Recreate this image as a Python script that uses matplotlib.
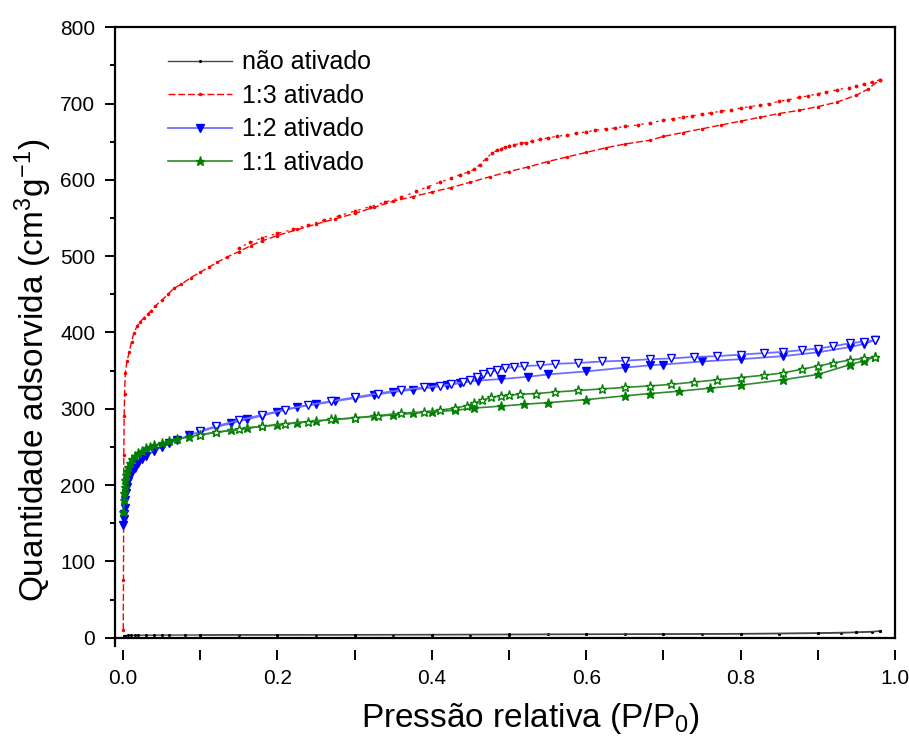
import matplotlib
matplotlib.use('Agg')
import matplotlib.pyplot as plt
from matplotlib.ticker import MultipleLocator

plt.rcParams['font.family'] = ['Liberation Sans', 'DejaVu Sans']
plt.rcParams['mathtext.fontset'] = 'custom'
plt.rcParams['mathtext.rm'] = 'Liberation Sans'
plt.rcParams['mathtext.it'] = 'Liberation Sans'

# não ativado
p_na_ads = [0.001, 0.003, 0.006, 0.01, 0.015, 0.02, 0.03, 0.04, 0.05, 0.06, 0.08, 0.1,
            0.15, 0.2, 0.25, 0.3, 0.35, 0.4, 0.45, 0.5, 0.55, 0.6, 0.65, 0.7, 0.75,
            0.8, 0.85, 0.9, 0.93, 0.95, 0.97, 0.98]
v_na_ads = [2.5, 2.8, 3.0, 3.1, 3.2, 3.2, 3.3, 3.3, 3.4, 3.4, 3.5, 3.5, 3.6, 3.7, 3.7,
            3.8, 3.9, 3.9, 4.0, 4.1, 4.2, 4.3, 4.4, 4.5, 4.7, 4.9, 5.2, 5.7, 6.2, 6.8,
            7.6, 8.5]
p_na_des = [0.98, 0.95, 0.9, 0.8, 0.7, 0.6, 0.5, 0.4, 0.3, 0.2, 0.1]
v_na_des = [8.5, 7.2, 6.2, 5.3, 4.8, 4.5, 4.3, 4.1, 3.9, 3.8, 3.6]

# 1:3 ativado
p_13_ads = [0.0003, 0.0006, 0.001, 0.0015, 0.002, 0.003, 0.005, 0.008, 0.011, 0.014,
            0.018, 0.022, 0.027, 0.032, 0.036, 0.042, 0.05, 0.058, 0.066, 0.075, 0.088,
            0.1, 0.112, 0.122, 0.135, 0.15, 0.166, 0.18, 0.2, 0.226, 0.25, 0.275, 0.3,
            0.325, 0.35, 0.375, 0.4, 0.425, 0.45, 0.475, 0.5, 0.525, 0.55, 0.575, 0.6,
            0.625, 0.65, 0.683, 0.7, 0.725, 0.75, 0.775, 0.8, 0.825, 0.85, 0.875, 0.9,
            0.925, 0.95, 0.965, 0.98]
v_13_ads = [10, 75, 240, 290, 320, 347, 362, 374, 388, 399, 408, 414, 419, 424, 428, 435,
            442, 450, 458, 463, 472, 479, 486, 492, 499, 506, 514, 520, 527, 535, 542,
            549, 556, 564, 572, 578, 584, 590, 597, 604, 611, 617, 624, 630, 636, 642,
            647, 652, 657, 662, 667, 672, 677, 682, 687, 691, 696, 702, 711, 719, 731]
p_13_des = [0.98, 0.97, 0.96, 0.95, 0.94, 0.925, 0.91, 0.9, 0.887, 0.875, 0.862, 0.85,
            0.837, 0.825, 0.812, 0.8, 0.787, 0.775, 0.762, 0.75, 0.737, 0.725, 0.712,
            0.7, 0.683, 0.667, 0.65, 0.637, 0.625, 0.612, 0.6, 0.587, 0.575, 0.562, 0.55,
            0.54, 0.53, 0.522, 0.515, 0.507, 0.5, 0.495, 0.49, 0.485, 0.478, 0.47, 0.462,
            0.455, 0.447, 0.437, 0.425, 0.41, 0.395, 0.38, 0.36, 0.34, 0.32, 0.3, 0.28,
            0.26, 0.24, 0.22, 0.2, 0.18, 0.165, 0.15]
v_13_des = [731, 728, 726, 723, 721, 718, 715, 713, 710, 708, 705, 703, 700, 698, 696,
            694, 692, 690, 688, 686, 684, 682, 680, 678, 675, 672, 670, 668, 667, 665,
            663, 661, 659, 657, 655, 653, 651, 649, 648, 646, 645, 643, 641, 639, 635,
            628, 620, 614, 610, 607, 602, 597, 591, 585, 577, 571, 565, 559, 553, 547,
            541, 535, 530, 524, 518, 511]

# 1:2 ativado
p_12_ads = [0.0005, 0.001, 0.0015, 0.002, 0.003, 0.004, 0.005, 0.007, 0.009, 0.012,
            0.015, 0.02, 0.025, 0.03, 0.04, 0.05, 0.06, 0.07, 0.085, 0.1, 0.12, 0.14,
            0.16, 0.18, 0.2, 0.225, 0.25, 0.275, 0.3, 0.325, 0.35, 0.375, 0.4, 0.42,
            0.437, 0.46, 0.49, 0.525, 0.55, 0.6, 0.65, 0.683, 0.7, 0.75, 0.8, 0.855,
            0.9, 0.942, 0.96, 0.974]
v_12_ads = [148, 155, 162, 170, 180, 190, 197, 205, 212, 218, 223, 229, 234, 238, 245,
            250, 255, 259, 265, 270, 276, 281, 286, 291, 296, 302, 306, 310, 314, 318,
            322, 325, 328, 331, 334, 337, 339, 342, 345, 349, 354, 357, 358, 362, 365,
            369, 374, 381, 385, 390]
p_12_des = [0.974, 0.96, 0.942, 0.92, 0.9, 0.88, 0.855, 0.83, 0.8, 0.77, 0.74, 0.71,
            0.683, 0.65, 0.62, 0.59, 0.56, 0.54, 0.52, 0.507, 0.495, 0.485, 0.475,
            0.466, 0.459, 0.45, 0.44, 0.425, 0.41, 0.39, 0.36, 0.33, 0.3, 0.27, 0.24,
            0.21, 0.18, 0.15, 0.12, 0.1]
v_12_des = [390, 388, 386, 382, 379, 377, 374.5, 373, 371, 369, 368, 366, 365, 363, 362,
            360, 359, 357, 356, 355, 353, 351, 348, 345, 342, 338, 335, 332, 330, 328,
            324.6, 320, 315, 310, 305, 299, 292, 285, 277, 271]

# 1:1 ativado
p_11_ads = [0.0005, 0.001, 0.0015, 0.002, 0.003, 0.004, 0.005, 0.007, 0.009, 0.012,
            0.015, 0.02, 0.025, 0.03, 0.035, 0.04, 0.05, 0.06, 0.07, 0.085, 0.1, 0.12,
            0.14, 0.16, 0.18, 0.2, 0.226, 0.25, 0.275, 0.3, 0.325, 0.35, 0.375, 0.4,
            0.43, 0.455, 0.49, 0.52, 0.55, 0.6, 0.65, 0.683, 0.72, 0.76, 0.8, 0.855,
            0.9, 0.942, 0.96, 0.974]
v_11_ads = [165, 180, 190, 198, 207, 213, 218, 224, 229, 234, 238, 242, 245, 248, 250,
            252, 255, 258, 260, 263, 266, 269, 272, 275, 277, 279, 282, 284, 286, 288,
            290, 292, 294, 296, 298, 301, 303.5, 306, 308, 312, 317, 320, 323, 327, 331,
            338, 345, 358, 363, 368]
p_11_des = [0.974, 0.96, 0.942, 0.92, 0.9, 0.88, 0.855, 0.83, 0.8, 0.77, 0.74, 0.71,
            0.683, 0.65, 0.62, 0.59, 0.56, 0.535, 0.514, 0.5, 0.49, 0.477, 0.465, 0.455,
            0.445, 0.43, 0.41, 0.39, 0.36, 0.33, 0.3, 0.27, 0.24, 0.21, 0.18, 0.15,
            0.12, 0.1]
v_11_des = [368, 366, 364, 360, 356, 352, 347, 344, 341, 338, 335, 332, 330, 328, 326,
            324, 322, 320, 319, 318, 317, 315, 311, 307.5, 304, 301, 298, 296, 294, 291,
            288, 286, 283, 280, 277, 273, 269, 266]

fig = plt.figure(figsize=(9.09, 7.42), dpi=100)
ax = fig.add_axes([0.1265, 0.1406, 0.8581, 0.8226])

# não ativado
ax.plot(p_na_ads, v_na_ads, color='#444444', lw=1.0, marker='.', ms=2.5, mfc='k', mec='k',
        label='não ativado')
ax.plot(p_na_des, v_na_des, color='#444444', lw=1.0, marker='.', ms=2.5, mfc='k', mec='k')

# 1:3 ativado
ax.plot(p_13_ads, v_13_ads, color='red', lw=1.0, dashes=(5, 2), marker='.', ms=3,
        label='1:3 ativado')
ax.plot(p_13_des, v_13_des, color='red', lw=0.9, dashes=(2, 4), marker='.', ms=3.5)

# 1:2 ativado
ax.plot(p_12_ads, v_12_ads, color='#6f6fff', lw=1.3, marker='v', ms=5.5, mfc='blue',
        mec='blue', label='1:2 ativado')
ax.plot(p_12_des, v_12_des, color='#6f6fff', lw=1.3, marker='v', ms=5.5, mfc='white',
        mec='blue', mew=1.0)

# 1:1 ativado
ax.plot(p_11_ads, v_11_ads, color='#2e8b2e', lw=1.2, marker='*', ms=6.5, mfc='green',
        mec='green', label='1:1 ativado')
ax.plot(p_11_des, v_11_des, color='#2e8b2e', lw=1.2, marker='*', ms=6.5, mfc='white',
        mec='green', mew=1.0)

ax.set_xlim(-0.0104, 1.0)
ax.set_ylim(0, 800)

ax.xaxis.set_major_locator(MultipleLocator(0.2))
ax.xaxis.set_minor_locator(MultipleLocator(0.1))
ax.yaxis.set_major_locator(MultipleLocator(100))
ax.yaxis.set_minor_locator(MultipleLocator(50))
ax.xaxis.set_major_formatter(plt.FormatStrFormatter('%.1f'))

for s in ax.spines.values():
    s.set_linewidth(1.6)
ax.spines['bottom'].set_position(('outward', 9))
ax.spines['bottom'].set_color('none')
ax.plot([0, 1], [0, 0], transform=ax.transAxes, color='k', lw=1.6, clip_on=False,
        solid_capstyle='projecting')
ax.plot([0, 0], [0, -8 / 610.4], transform=ax.transAxes, color='k', lw=1.6,
        clip_on=False)

ax.tick_params(axis='both', which='both', direction='out', top=False, right=False,
               labelsize=15, width=1.4, color='k')
ax.tick_params(axis='y', which='major', length=7.2, pad=7)
ax.tick_params(axis='y', which='minor', length=3.6)
ax.tick_params(axis='x', which='major', length=7.2, pad=6)
ax.tick_params(axis='x', which='minor', length=7.2)

ax.set_xlabel('Pressão relativa (P/P$_0$)', fontsize=24)
ax.set_ylabel('Quantidade adsorvida (cm$^3$g$^{-1}$)', fontsize=24)
ax.xaxis.set_label_coords(0.532, -0.103)
ax.yaxis.set_label_coords(-0.078, 0.4386)

ax.legend(loc='upper left', bbox_to_anchor=(0.068, 0.962), frameon=False, fontsize=18,
          handlelength=2.56, handletextpad=0.4, labelspacing=0.38, borderpad=0,
          borderaxespad=0, numpoints=1)

fig.savefig('out.png', dpi=100)
